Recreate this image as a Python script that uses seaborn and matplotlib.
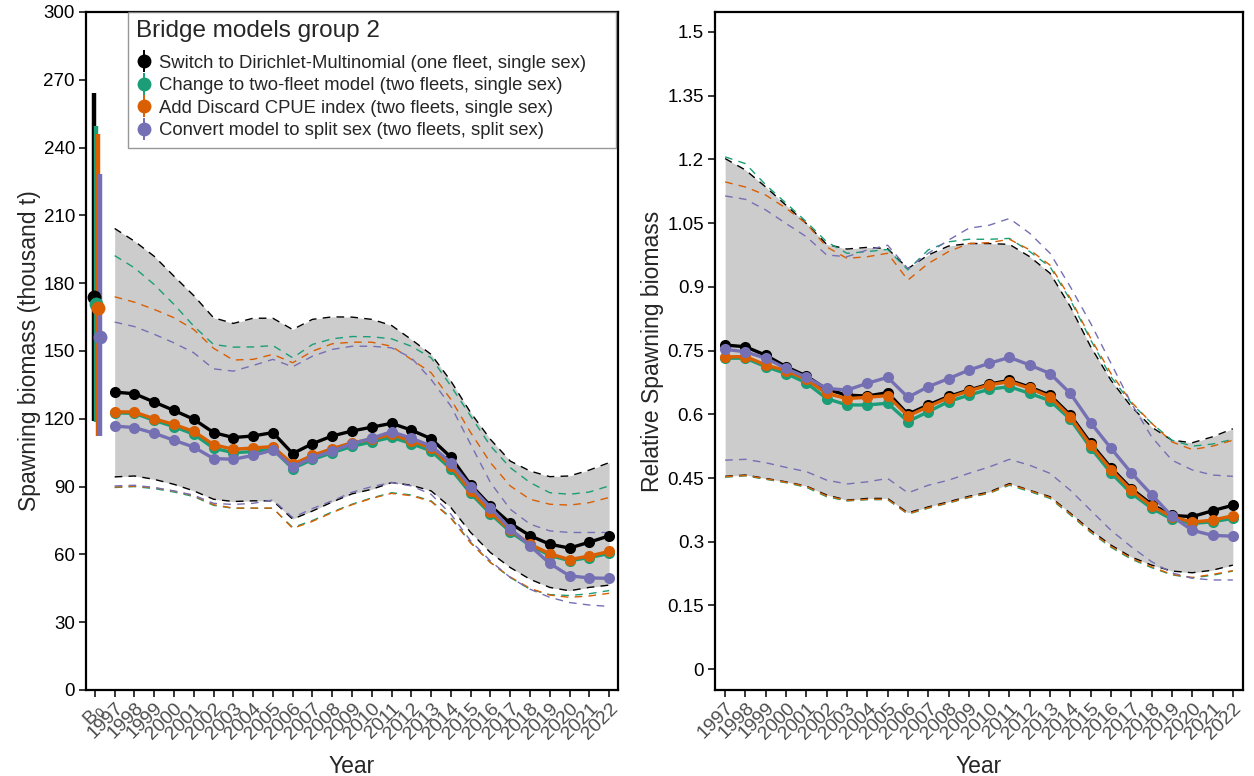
import numpy as np
import pandas as pd
import matplotlib
matplotlib.use("Agg")
import matplotlib.pyplot as plt
from matplotlib.lines import Line2D
from matplotlib.legend_handler import HandlerTuple
import seaborn as sns

# ---------------- data ----------------
years = list(range(1997, 2023))
models = [
    "Switch to Dirichlet-Multinomial (one fleet, single sex)",
    "Change to two-fleet model (two fleets, single sex)",
    "Add Discard CPUE index (two fleets, single sex)",
    "Convert model to split sex (two fleets, split sex)",
]
colors = ["#000000", "#1B9E77", "#D95F02", "#7570B3"]

# Spawning biomass (thousand t)
ssb_dm = [131.8, 131.1, 127.4, 123.7, 119.8, 113.9, 111.7, 112.4, 113.9, 104.6, 109.0, 112.4, 114.6,
          116.3, 118.0, 115.0, 111.2, 103.0, 90.8, 81.5, 73.8, 68.3, 64.5, 62.8, 65.4, 68.2]
ssb_2f = [122.6, 122.4, 119.3, 116.5, 113.2, 107.0, 105.0, 105.5, 106.5, 98.0, 102.0, 105.0, 107.8,
          109.8, 111.8, 109.0, 105.8, 97.8, 87.0, 78.0, 70.0, 64.0, 59.6, 57.2, 58.6, 60.4]
ssb_cpue = [123.1, 123.0, 120.0, 117.5, 114.4, 108.6, 106.5, 107.1, 107.7, 99.9, 103.8, 106.8, 109.4,
            110.9, 113.1, 110.2, 107.2, 99.1, 88.1, 78.8, 70.8, 64.5, 60.3, 57.7, 59.3, 61.3]
ssb_sex = [116.8, 116.1, 113.6, 110.5, 107.5, 102.4, 102.1, 103.8, 106.2, 98.7, 102.8, 105.7, 109.0,
           111.4, 114.3, 111.4, 108.0, 100.6, 90.0, 80.7, 71.4, 63.8, 56.0, 50.5, 49.6, 49.4]

ssb_hi_dm = [204.2, 198.6, 191.9, 183.1, 174.5, 164.7, 162.2, 164.5, 164.5, 159.5, 164.0, 165.1, 165.0,
             164.0, 161.3, 155.1, 148.5, 136.7, 122.7, 110.9, 101.3, 96.9, 94.4, 94.7, 97.3, 100.6]
ssb_hi_2f = [192.2, 186.8, 179.4, 170.6, 161.0, 152.9, 151.7, 151.8, 152.4, 147.0, 152.9, 155.4, 156.4,
             156.3, 155.4, 152.1, 147.0, 134.5, 121.2, 108.0, 98.4, 91.8, 87.3, 86.6, 87.6, 90.3]
ssb_hi_cpue = [174.0, 171.6, 168.4, 164.7, 159.5, 151.2, 146.0, 146.3, 148.5, 144.8, 149.9, 153.2, 153.9,
               153.9, 152.1, 146.3, 140.4, 128.6, 113.9, 100.6, 90.3, 84.4, 82.2, 81.8, 82.9, 85.2]
ssb_hi_sex = [162.8, 160.8, 157.4, 153.6, 149.2, 142.1, 141.1, 143.6, 146.3, 143.0, 147.7, 150.7, 152.1,
              152.1, 151.4, 147.0, 137.4, 125.6, 108.7, 91.8, 80.0, 73.4, 70.4, 69.7, 69.7, 69.7]

ssb_lo_dm = [94.3, 94.7, 93.2, 91.0, 88.1, 84.4, 83.4, 83.7, 83.7, 75.6, 79.2, 83.2, 86.8,
             88.8, 91.8, 90.6, 88.1, 80.7, 69.7, 60.8, 54.2, 49.0, 45.4, 43.9, 45.4, 46.4]
ssb_lo_2f = [89.6, 90.0, 89.1, 87.6, 85.6, 81.7, 80.4, 80.4, 80.4, 71.9, 75.0, 78.8, 82.2,
             85.0, 87.3, 86.3, 83.7, 76.3, 65.3, 56.4, 49.8, 44.6, 42.2, 41.8, 42.6, 44.0]
ssb_lo_cpue = [89.8, 90.2, 89.5, 88.0, 86.0, 82.0, 80.5, 80.5, 80.5, 71.5, 74.6, 78.5, 82.0,
               84.8, 87.0, 86.0, 83.4, 76.0, 65.0, 56.4, 50.0, 45.0, 42.0, 41.0, 41.6, 42.8]
ssb_lo_sex = [90.3, 90.6, 89.6, 88.1, 86.2, 82.6, 82.1, 82.6, 84.1, 76.3, 80.3, 83.7, 87.5,
              90.0, 91.8, 90.3, 86.6, 77.8, 66.0, 57.1, 49.8, 44.6, 41.0, 38.7, 37.6, 37.0]

# Unfished spawning biomass (B0) with interval
b0 = [173.8, 170.6, 169.1, 156.1]
b0_lo = [118.9, 118.4, 112.5, 112.5]
b0_hi = [264.1, 249.4, 246.0, 228.3]

# Relative spawning biomass
rel_dm = [0.763, 0.759, 0.739, 0.712, 0.690, 0.659, 0.645, 0.643, 0.651, 0.600, 0.622, 0.642, 0.657,
          0.671, 0.680, 0.664, 0.645, 0.598, 0.532, 0.474, 0.425, 0.388, 0.362, 0.359, 0.373, 0.386]
rel_2f = [0.732, 0.732, 0.712, 0.696, 0.674, 0.637, 0.622, 0.622, 0.626, 0.583, 0.606, 0.630, 0.645,
          0.659, 0.665, 0.649, 0.632, 0.588, 0.521, 0.462, 0.414, 0.379, 0.353, 0.343, 0.347, 0.355]
rel_cpue = [0.735, 0.736, 0.716, 0.703, 0.682, 0.649, 0.637, 0.640, 0.644, 0.596, 0.618, 0.639, 0.655,
            0.669, 0.677, 0.661, 0.641, 0.594, 0.527, 0.470, 0.421, 0.384, 0.359, 0.346, 0.351, 0.361]
rel_sex = [0.753, 0.747, 0.732, 0.708, 0.687, 0.661, 0.657, 0.673, 0.687, 0.640, 0.665, 0.684, 0.704,
           0.720, 0.734, 0.716, 0.696, 0.649, 0.580, 0.520, 0.462, 0.411, 0.360, 0.327, 0.315, 0.313]

rel_hi_dm = [1.202, 1.175, 1.135, 1.092, 1.049, 1.000, 0.989, 0.993, 0.990, 0.943, 0.975, 0.996, 1.002,
             1.002, 1.000, 0.971, 0.932, 0.853, 0.759, 0.680, 0.618, 0.570, 0.539, 0.533, 0.547, 0.566]
rel_hi_2f = [1.206, 1.190, 1.140, 1.097, 1.053, 1.006, 0.979, 0.983, 0.988, 0.940, 0.987, 1.006, 1.012,
             1.012, 1.014, 0.983, 0.947, 0.869, 0.775, 0.688, 0.626, 0.579, 0.539, 0.525, 0.530, 0.541]
rel_hi_cpue = [1.147, 1.135, 1.116, 1.085, 1.049, 0.994, 0.967, 0.971, 0.979, 0.916, 0.955, 0.983, 1.002,
               1.004, 1.012, 0.987, 0.951, 0.873, 0.779, 0.696, 0.629, 0.579, 0.535, 0.517, 0.525, 0.539]
rel_hi_sex = [1.114, 1.106, 1.081, 1.049, 1.018, 0.975, 0.971, 0.987, 0.998, 0.943, 0.979, 1.010, 1.038,
              1.045, 1.061, 1.026, 0.979, 0.900, 0.814, 0.720, 0.626, 0.547, 0.492, 0.469, 0.457, 0.454]

rel_lo_dm = [0.454, 0.457, 0.449, 0.441, 0.431, 0.410, 0.398, 0.402, 0.402, 0.368, 0.382, 0.394, 0.407,
             0.417, 0.437, 0.421, 0.406, 0.367, 0.327, 0.292, 0.264, 0.245, 0.231, 0.227, 0.233, 0.245]
rel_lo_2f = [0.452, 0.455, 0.447, 0.439, 0.428, 0.406, 0.396, 0.399, 0.399, 0.365, 0.379, 0.391, 0.404,
             0.414, 0.433, 0.418, 0.402, 0.363, 0.322, 0.287, 0.259, 0.239, 0.222, 0.215, 0.221, 0.231]
rel_lo_cpue = [0.453, 0.456, 0.448, 0.440, 0.430, 0.408, 0.397, 0.400, 0.400, 0.366, 0.380, 0.392, 0.405,
               0.415, 0.435, 0.420, 0.404, 0.365, 0.324, 0.289, 0.261, 0.241, 0.223, 0.216, 0.223, 0.232]
rel_lo_sex = [0.492, 0.494, 0.486, 0.475, 0.465, 0.445, 0.436, 0.441, 0.449, 0.415, 0.433, 0.445, 0.461,
              0.476, 0.494, 0.480, 0.461, 0.421, 0.374, 0.327, 0.288, 0.253, 0.227, 0.214, 0.210, 0.210]

ssb_y_ticks = [0, 30, 60, 90, 120, 150, 180, 210, 240, 270, 300]
rel_y_ticks = [0, 0.15, 0.3, 0.45, 0.6, 0.75, 0.9, 1.05, 1.2, 1.35, 1.5]
rel_y_labels = ["0", "0.15", "0.3", "0.45", "0.6", "0.75", "0.9", "1.05", "1.2", "1.35", "1.5"]

# ---------------- tidy frames ----------------
def long_frame(est, lo, hi):
    rows = []
    for m, e, l, h in zip(models, est, lo, hi):
        for yr, ve, vl, vh in zip(years, e, l, h):
            rows.append({"year": yr, "model": m, "est": ve, "lo": vl, "hi": vh})
    return pd.DataFrame(rows)

ssb_df = long_frame([ssb_dm, ssb_2f, ssb_cpue, ssb_sex],
                    [ssb_lo_dm, ssb_lo_2f, ssb_lo_cpue, ssb_lo_sex],
                    [ssb_hi_dm, ssb_hi_2f, ssb_hi_cpue, ssb_hi_sex])
rel_df = long_frame([rel_dm, rel_2f, rel_cpue, rel_sex],
                    [rel_lo_dm, rel_lo_2f, rel_lo_cpue, rel_lo_sex],
                    [rel_hi_dm, rel_hi_2f, rel_hi_cpue, rel_hi_sex])
palette = dict(zip(models, colors))

# ---------------- style ----------------
sns.set_theme(style="white")
plt.rcParams["font.family"] = ["Liberation Sans", "DejaVu Sans"]
plt.rcParams["mathtext.fontset"] = "custom"
plt.rcParams["mathtext.rm"] = "Liberation Sans"
plt.rcParams["mathtext.it"] = "Liberation Sans:italic"

fig = plt.figure(figsize=(12.54, 7.76), dpi=100)
W, H = 1254, 776
ax1 = fig.add_axes([86 / W, 1 - 690 / H, (618 - 86) / W, (690 - 12) / H])
ax2 = fig.add_axes([715 / W, 1 - 690 / H, (1243 - 715) / W, (690 - 12) / H])

def draw_panel(ax, df, ribbon_lo, ribbon_hi):
    ax.fill_between(years, ribbon_lo, ribbon_hi, color="#CCCCCC", lw=0, zorder=1)
    for col in ["hi", "lo"]:
        sns.lineplot(data=df, x="year", y=col, hue="model", palette=palette,
                     hue_order=models, errorbar=None, estimator=None, legend=False,
                     lw=1.0, ax=ax, zorder=2)
    for ln in ax.get_lines():
        ln.set_dashes((5.5, 4.5))
    sns.lineplot(data=df, x="year", y="est", hue="model", palette=palette,
                 hue_order=models, errorbar=None, estimator=None, legend=False,
                 lw=2.4, marker="o", markersize=8, markeredgewidth=0, ax=ax, zorder=3)

draw_panel(ax1, ssb_df, ssb_lo_dm, ssb_hi_dm)
draw_panel(ax2, rel_df, rel_lo_dm, rel_hi_dm)

# B0 point ranges, dodged around the B0 slot
b0_pos = 1996
dodge = [-0.05, 0.05, 0.15, 0.25]
for d, v, l, h, c in zip(dodge, b0, b0_lo, b0_hi, colors):
    ax1.errorbar(b0_pos + d, v, yerr=[[v - l], [h - v]], fmt="o", color=c,
                 ms=10, mew=0, elinewidth=3.2, capsize=0, zorder=4)

# axes cosmetics
ax1.set_xlim(1995.55, 2022.45)
ax1.set_ylim(0, 300)
ax1.set_xticks([b0_pos] + years)
ax1.set_xticklabels(["B$_0$"] + [str(y) for y in years])
ax1.set_yticks(ssb_y_ticks)
ax1.set_yticklabels([str(t) for t in ssb_y_ticks])
ax1.set_ylabel("Spawning biomass (thousand t)", fontsize=16.5, labelpad=2)

ax2.set_xlim(1996.5, 2022.5)
ax2.set_ylim(-0.049, 1.547)
ax2.set_xticks(years)
ax2.set_xticklabels([str(y) for y in years])
ax2.set_yticks(rel_y_ticks)
ax2.set_yticklabels(rel_y_labels)
ax2.set_ylabel("Relative Spawning biomass", fontsize=16.5, labelpad=2)

for ax in (ax1, ax2):
    ax.set_xlabel("Year", fontsize=16.5, labelpad=9)
    for s in ax.spines.values():
        s.set_visible(True)
        s.set_color("black")
        s.set_linewidth(1.6)
    ax.tick_params(axis="both", which="major", direction="out", length=5, width=1.1,
                   color="black", bottom=True, left=True)
    ax.tick_params(axis="y", labelsize=13.5, labelcolor="black", pad=3)
    ax.tick_params(axis="x", labelsize=14, labelcolor="#4D4D4D", pad=2)
    for lab in ax.get_xticklabels():
        lab.set_rotation(45)
        lab.set_ha("right")
        lab.set_va("top")
        lab.set_rotation_mode("anchor")
    ax.grid(False)

# legend: point with vertical range, box stretched to the panel's right edge
handles = [(Line2D([], [], marker="|", ms=16, mew=1.4, color=c, ls="none"),
            Line2D([], [], marker="o", ms=10, mew=0, color=c, ls="none"))
           for c in colors]
leg_x0 = (128 - 86) / (618 - 86)
leg_x1 = (616 - 86) / (618 - 86)
leg = ax1.legend(handles, models, handler_map={tuple: HandlerTuple(ndivide=1)},
                 title="Bridge models group 2", loc="upper left", mode="expand",
                 bbox_to_anchor=(leg_x0, 0.0, leg_x1 - leg_x0, 1.0), borderaxespad=0,
                 fontsize=13.3, title_fontsize=17.5, frameon=True, fancybox=False,
                 handlelength=0.8, handletextpad=0.45, labelspacing=0.3,
                 borderpad=0.45, alignment="left")
leg.get_frame().set_edgecolor("#7F7F7F")
leg.get_frame().set_linewidth(1.0)
leg.set_zorder(10)
leg._legend_box.sep = 9

fig.savefig("out.png", dpi=100)
